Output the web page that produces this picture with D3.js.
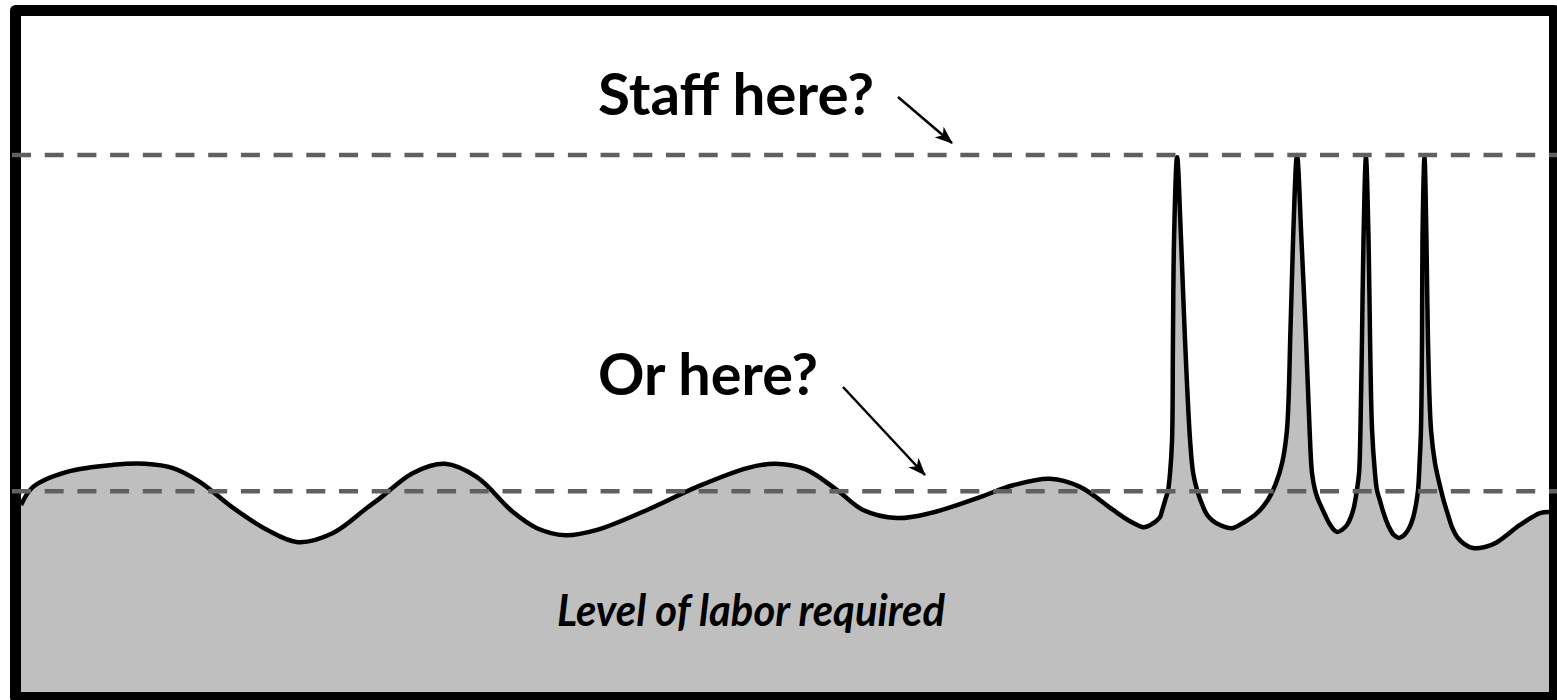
<!DOCTYPE html>
<html>
<head>
<meta charset="utf-8">
<script src="https://cdn.jsdelivr.net/npm/d3@7"></script>
<style>
  body { margin: 0; background: #fff; }
  svg { display: block; }
</style>
</head>
<body>
<script>
// labor curve: time (0-100) and labor level (0-100)
var timeValues = [0, 0.79, 3.01, 6.02, 8.12, 9.95, 11.72, 13.88, 16.10, 18.13,
  20.42, 22.65, 23.50, 25.66, 27.75, 29.84, 32.20, 33.77, 35.60, 37.70,
  40.97, 44.24, 47.52, 49.35, 51.31, 53.41, 55.11, 57.33, 59.49, 62.77,
  64.93, 67.35, 69.31, 71.47, 72.58, 73.43, 73.76, 74.02, 74.28, 74.55, 74.67, 74.87,
  // spike 1
  75.07, 75.20, 75.33, 75.39, 75.46, 75.66, 75.92, 76.18, 76.51, 76.71, 76.97,
  77.36, 77.62, 77.95, 78.47, 79.25, 80.10, 80.89,
  // spike 2
  81.61, 82.13, 82.53, 82.85, 83.08, 83.25, 83.51, 83.80, 84.10, 84.36, 84.49, 84.69,
  84.88, 85.08, 85.34, 85.60, 85.86, 86.13, 86.45, 86.78, 87.04, 87.24,
  // spike 3
  87.43, 87.57, 87.66, 87.76, 87.86, 88.02, 88.19, 88.29, 88.42, 88.61, 88.74,
  88.94, 89.20, 89.53, 89.86, 90.18, 90.51, 90.84, 91.10, 91.30,
  // spike 4
  91.43, 91.53, 91.62, 91.69, 91.72, 91.85, 91.98, 92.08, 92.28, 92.54, 92.93,
  93.13, 93.39, 93.65, 93.98, 94.44, 95.03, 95.81, 96.60, 98.10, 99.41, 100];
var laborValues = [34.8, 38.2, 41.0, 42.3, 42.5, 41.7, 39.1, 34.3, 30.2, 27.9,
  29.6, 34.3, 36.1, 40.8, 42.5, 40.0, 33.5, 30.5, 29.2, 30.2,
  33.9, 38.2, 41.7, 42.5, 41.5, 37.6, 33.9, 32.4, 33.3, 36.3,
  38.5, 39.7, 38.2, 33.9, 31.8, 30.7, 30.9, 31.3, 31.8, 32.6, 33.7, 35.6,
  // spike 1
  37.6, 40.8, 46.9, 65.5, 84.2, 99.6, 84.2, 65.5, 46.9, 40.8, 37.6,
  34.5, 33.0, 32.0, 31.1, 30.5, 31.7, 33.3,
  // spike 2
  35.8, 38.9, 42.6, 48.8, 67.4, 84.2, 100.0, 84.2, 65.5, 46.9, 40.8, 37.6,
  35.9, 34.6, 33.0, 31.5, 30.4, 29.8, 30.2, 31.1, 32.6, 34.5,
  // spike 3
  37.6, 40.8, 48.8, 65.5, 84.2, 99.6, 84.2, 65.5, 48.8, 40.8, 37.6,
  35.6, 33.1, 30.7, 29.2, 28.7, 29.2, 30.5, 32.4, 35.0,
  // spike 4
  37.6, 42.6, 48.8, 65.5, 84.2, 99.6, 84.2, 65.5, 48.8, 42.6, 37.6,
  35.4, 33.0, 30.7, 28.9, 27.6, 26.8, 27.0, 27.9, 31.1, 33.3, 33.5];

// the two staffing options (peak, average)
var staffLevels = [100, 37.4];
var staffLabels = ["Staff here?", "Or here?"];

var width = 1557, height = 700;

var svg = d3.select("body").append("svg")
    .attr("width", width)
    .attr("height", height);

var x = d3.scaleLinear().domain([0, 100]).range([21, 1549]);
var y = d3.scaleLinear().domain([0, 100]).range([692, 155]);

var points = timeValues.map(function(t, i) { return [t, laborValues[i]]; });
var curve = d3.curveCatmullRom.alpha(0.5);

svg.append("defs").append("marker")
    .attr("id", "arrow")
    .attr("markerUnits", "userSpaceOnUse")
    .attr("viewBox", "0 0 18 14")
    .attr("refX", 17)
    .attr("refY", 7)
    .attr("markerWidth", 18)
    .attr("markerHeight", 14)
    .attr("orient", "auto")
  .append("path")
    .attr("d", "M0,0 L18,7 L0,14 L5,7 Z")
    .attr("fill", "black");

// grey area under the curve
var area = d3.area()
    .x(function(d) { return x(d[0]); })
    .y0(y(0))
    .y1(function(d) { return y(d[1]); })
    .curve(curve);

svg.append("path")
    .datum(points)
    .attr("d", area)
    .attr("fill", "#bfbfbf");

var line = d3.line()
    .x(function(d) { return x(d[0]); })
    .y(function(d) { return y(d[1]); })
    .curve(curve);

svg.append("path")
    .datum(points)
    .attr("d", line)
    .attr("fill", "none")
    .attr("stroke", "black")
    .attr("stroke-width", 4.5)
    .attr("stroke-linejoin", "round");

// frame
svg.append("rect")
    .attr("x", 15.5)
    .attr("y", 10.5)
    .attr("width", 1539)
    .attr("height", 687)
    .attr("fill", "none")
    .attr("stroke", "black")
    .attr("stroke-width", 11)
    .attr("stroke-linejoin", "round");

// dashed staffing lines
svg.selectAll(".staff")
    .data(staffLevels)
  .enter().append("line")
    .attr("class", "staff")
    .attr("x1", 12)
    .attr("x2", width)
    .attr("y1", function(d) { return y(d); })
    .attr("y2", function(d) { return y(d); })
    .attr("stroke", "#606060")
    .attr("stroke-width", 4.5)
    .attr("stroke-dasharray", "19,13.7");

// labels + arrows
var labelBase = [115, 395];
var arrowStart = [[898, 97], [843, 387]];
var arrowEnd = [[952, 143], [925, 475]];
var labelWidth = [276, 220];

staffLabels.forEach(function(txt, i) {
  svg.append("text")
      .attr("x", 598)
      .attr("y", labelBase[i])
      .attr("font-family", "Lato, 'Open Sans', sans-serif")
      .attr("font-weight", "bold")
      .attr("font-size", 58)
      .attr("textLength", labelWidth[i])
      .attr("lengthAdjust", "spacingAndGlyphs")
      .text(txt);

  svg.append("line")
      .attr("x1", arrowStart[i][0])
      .attr("y1", arrowStart[i][1])
      .attr("x2", arrowEnd[i][0])
      .attr("y2", arrowEnd[i][1])
      .attr("stroke", "black")
      .attr("stroke-width", 2.5)
      .attr("marker-end", "url(#arrow)");
});

svg.append("text")
    .attr("x", 751)
    .attr("y", 626)
    .attr("text-anchor", "middle")
    .attr("font-family", "Lato, 'Open Sans', sans-serif")
    .attr("font-weight", "bold")
    .attr("font-style", "italic")
    .attr("font-size", 44)
    .attr("textLength", 388)
    .attr("lengthAdjust", "spacingAndGlyphs")
    .text("Level of labor required");
</script>
</body>
</html>
